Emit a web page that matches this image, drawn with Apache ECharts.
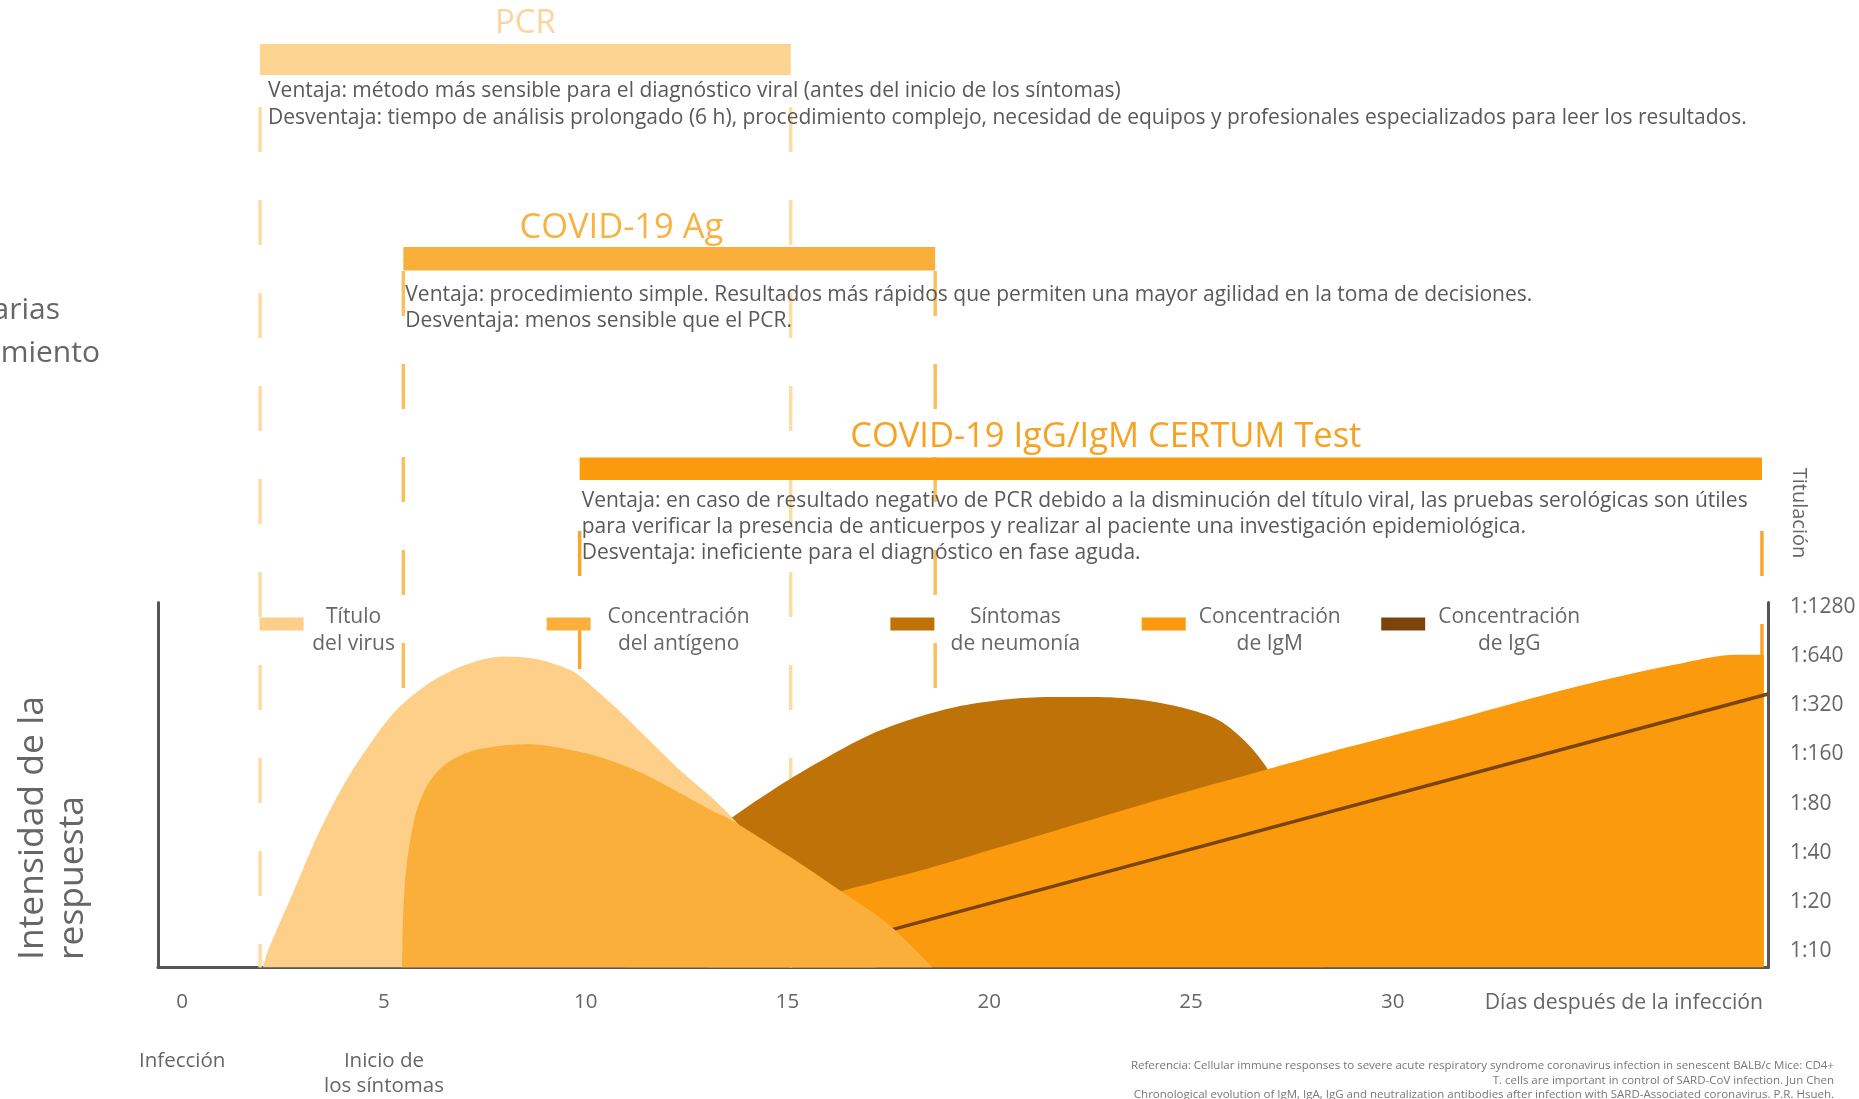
<!DOCTYPE html>
<html>
<head>
<meta charset="utf-8">
<script src="https://cdn.jsdelivr.net/npm/echarts@6/dist/echarts.min.js"></script>
<style>
html,body{margin:0;padding:0;background:#ffffff;}
#chart{width:1859px;height:1099px;}
</style>
</head>
<body>
<div id="chart"></div>
<script>
// ---------- data ----------
const xTickDays = [0, 5, 10, 15, 20, 25, 30];
const xEventDays = [0, 5];
const xEventLabels = ['Infección', 'Inicio de\nlos síntomas'];
const yTickSteps = [0, 1, 2, 3, 4, 5, 6, 7];
const yTickLabels = ['1:10', '1:20', '1:40', '1:80', '1:160', '1:320', '1:640', '1:1280'];

const seriesNames = ['Título del virus', 'Concentración del antígeno', 'Síntomas de neumonía', 'Concentración de IgM', 'Concentración de IgG'];
const legendLines = [['Título', 'del virus'], ['Concentración', 'del antígeno'], ['Síntomas', 'de neumonía'], ['Concentración', 'de IgM'], ['Concentración', 'de IgG']];

// response curves: x = days after infection, y = titre steps (0 = 1:10, 7 = 1:1280)
const virusDays = [2.0, 2.12, 2.75, 3.38, 4.02, 4.65, 5.28, 6.04, 6.79, 7.2, 7.55, 7.95, 8.31, 8.7, 9.07, 9.70, 10.2, 10.84, 11.6, 12.35, 13.1, 13.6, 14.5, 15.5, 16.5, 17.2];
const virusVals = [-0.33, 0.0, 1.2, 2.4, 3.41, 4.21, 4.88, 5.41, 5.75, 5.87, 5.95, 5.99, 5.98, 5.95, 5.88, 5.68, 5.35, 4.88, 4.27, 3.67, 3.14, 2.74, 1.95, 1.1, 0.3, -0.33];

const antigenDays = [5.45, 5.47, 5.52, 5.6, 5.79, 6.1, 6.54, 7.17, 7.8, 8.2, 8.56, 8.95, 9.32, 10.08, 10.84, 11.6, 12.35, 13.1, 13.6, 15.0, 16.33, 17.5, 18.6];
const antigenVals = [-0.33, 0.6, 1.4, 2.0, 2.8, 3.41, 3.81, 4.07, 4.17, 4.2, 4.21, 4.19, 4.14, 4.01, 3.81, 3.54, 3.21, 2.87, 2.67, 1.95, 1.22, 0.55, -0.33];

const pneumoniaDays = [11.0, 12.5, 13.58, 14.9, 16.0, 17.1, 18.2, 19.3, 20.4, 21.5, 22.6, 23.7, 24.8, 25.7, 26.4, 26.9, 27.5, 28.0, 28.3];
const pneumoniaVals = [0.9, 2.0, 2.69, 3.42, 3.95, 4.42, 4.75, 4.99, 5.12, 5.17, 5.17, 5.12, 4.95, 4.69, 4.22, 3.70, 2.7, 1.2, -0.33];

const igmDays = [13.0, 16.33, 18.2, 20.4, 22.6, 24.8, 26.9, 28.9, 31.25, 33.2, 35.1, 37.0, 38.5, 39.2];
const igmVals = [0.45, 1.22, 1.62, 2.15, 2.69, 3.22, 3.70, 4.15, 4.65, 5.09, 5.49, 5.83, 6.03, 6.03];

const iggDays = [17.5, 39.3];
const iggVals = [0.42, 5.23];

// diagnostic test windows (days)
const testNames = ['PCR', 'COVID-19 Ag', 'COVID-19 IgG/IgM CERTUM Test'];
const testStart = [1.93, 5.48, 9.85];
const testEnd = [15.08, 18.66, 39.15];
const testNotes = [
  ['Ventaja: método más sensible para el diagnóstico viral (antes del inicio de los síntomas)',
   'Desventaja: tiempo de análisis prolongado (6 h), procedimiento complejo, necesidad de equipos y profesionales especializados para leer los resultados.'],
  ['Ventaja: procedimiento simple. Resultados más rápidos que permiten una mayor agilidad en la toma de decisiones.',
   'Desventaja: menos sensible que el PCR.'],
  ['Ventaja: en caso de resultado negativo de PCR debido a la disminución del título viral, las pruebas serológicas son útiles',
   'para verificar la presencia de anticuerpos y realizar al paciente una investigación epidemiológica.',
   'Desventaja: ineficiente para el diagnóstico en fase aguda.']
];

// ---------- style / layout ----------
const FONT = '"Open Sans", "Noto Sans", sans-serif';
const X_MIN = -0.6, X_MAX = 39.3;
const Y_MIN = -0.33, Y_MAX = 7.09;
const GRAY = '#666666';
const AXIS = '#555555';
const COLORS = ['#FDCF88', '#F9AF3A', '#BF7207', '#FB9A0D', '#7A440C'];

const TEST_STYLE = [
  {bar: '#FDD390', title: '#FDD49C', dash: '#FDDCA6', barTop: 44, barH: 31, titleY: 24, titleFrac: 0.5, titleSize: 33, textY0: 91, lineH: 27.3, textDx: 8, dashTop: 107},
  {bar: '#F9AF3A', title: '#F8B23F', dash: '#F9BE5E', barTop: 247, barH: 23.5, titleY: 228, titleFrac: 0.41, titleSize: 34.5, textY0: 295, lineH: 26, textDx: 2, dashTop: 271},
  {bar: '#FB9A0D', title: '#F6A222', dash: '#F9A62D', barTop: 457.5, barH: 22.5, titleY: 437.5, titleFrac: 0.445, titleSize: 34.5, textY0: 501, lineH: 26, textDx: 2, dashTop: 531}
];
const LEGEND_POS = [{left: 259.6, w: 90}, {left: 546.6, w: 166}, {left: 890.4, w: 152}, {left: 1141.7, w: 158}, {left: 1381.2, w: 158}];

function pairs(xs, ys) { return xs.map((x, i) => [x, ys[i]]); }

function areaSeries(idx, xs, ys, z) {
  return {
    type: 'line', name: seriesNames[idx], data: pairs(xs, ys),
    smooth: 0.3, symbol: 'none', silent: true, z: z,
    itemStyle: {color: COLORS[idx]},
    lineStyle: {width: 0, color: COLORS[idx]},
    areaStyle: {color: COLORS[idx], opacity: 1, origin: 'start'}
  };
}

function renderTest(params, api) {
  const i = params.dataIndex;
  const L = TEST_STYLE[i];
  const x0 = api.coord([api.value(0), Y_MIN])[0];
  const x1 = api.coord([api.value(1), Y_MIN])[0];
  const yb = api.coord([api.value(0), Y_MIN])[1];
  const children = [];
  [x0, x1].forEach(x => children.push({
    type: 'line', shape: {x1: x, y1: L.dashTop, x2: x, y2: yb},
    style: {stroke: L.dash, lineWidth: 3.5, lineDash: [45, 48]}
  }));
  children.push({type: 'rect', shape: {x: x0, y: L.barTop, width: x1 - x0, height: L.barH}, style: {fill: L.bar}});
  children.push({type: 'text', x: x0 + (x1 - x0) * L.titleFrac, y: L.titleY,
    style: {text: testNames[i], fill: L.title, fontSize: L.titleSize, fontFamily: FONT, align: 'center', verticalAlign: 'middle'}});
  testNotes[i].forEach((t, k) => children.push({type: 'text', x: x0 + L.textDx, y: L.textY0 + k * L.lineH,
    style: {text: t, fill: '#595959', fontSize: 21, fontFamily: FONT, align: 'left', verticalAlign: 'middle'}}));
  return {type: 'group', children: children};
}

const legends = seriesNames.map((n, i) => ({
  data: [n], left: LEGEND_POS[i].left, top: 606.5, padding: 0,
  icon: 'rect', itemWidth: 44, itemHeight: 13, selectedMode: false,
  formatter: () => legendLines[i].map(l => '{c|' + l + '}').join('\n'),
  textStyle: {
    padding: [13, 0, 0, 0],
    rich: {c: {width: LEGEND_POS[i].w, align: 'center', fontSize: 21, lineHeight: 27, color: GRAY, fontFamily: FONT}}
  }
}));

const option = {
  animation: false,
  backgroundColor: '#ffffff',
  textStyle: {fontFamily: FONT},
  grid: {left: 158, right: 91, top: 602.5, bottom: 124.5, containLabel: false},
  legend: legends,
  xAxis: [
    {type: 'value', min: X_MIN, max: X_MAX, position: 'bottom',
     axisLine: {show: true, onZero: false, lineStyle: {color: AXIS, width: 3}},
     axisTick: {show: false}, splitLine: {show: false},
     axisLabel: {customValues: xTickDays, color: GRAY, fontSize: 20.5, margin: 24, fontFamily: FONT}},
    {type: 'value', min: X_MIN, max: X_MAX, position: 'bottom', offset: 0,
     axisLine: {show: false, onZero: false}, axisTick: {show: false}, splitLine: {show: false},
     axisLabel: {customValues: xEventDays, formatter: v => xEventLabels[xEventDays.indexOf(v)] || '',
       color: GRAY, fontSize: 20.5, lineHeight: 25, margin: 81.5, fontFamily: FONT}}
  ],
  yAxis: [
    {type: 'value', min: Y_MIN, max: Y_MAX, position: 'left',
     axisLine: {show: true, onZero: false, lineStyle: {color: AXIS, width: 3}},
     axisTick: {show: false}, splitLine: {show: false}, axisLabel: {show: false}},
    {type: 'value', min: Y_MIN, max: Y_MAX, position: 'right',
     axisLine: {show: true, onZero: false, lineStyle: {color: AXIS, width: 3}},
     axisTick: {show: false}, splitLine: {show: false},
     axisLabel: {customValues: yTickSteps, formatter: v => yTickLabels[yTickSteps.indexOf(v)] || '',
       color: GRAY, fontSize: 21, margin: 22, fontFamily: FONT}}
  ],
  series: [
    {type: 'custom', name: 'tests', renderItem: renderTest, data: testStart.map((s, i) => [s, testEnd[i]]),
     encode: {x: [0, 1]}, z: 1, silent: true, clip: false},
    areaSeries(2, pneumoniaDays, pneumoniaVals, 3),
    areaSeries(3, igmDays, igmVals, 4),
    {type: 'line', name: seriesNames[4], data: pairs(iggDays, iggVals), symbol: 'none', silent: true, z: 5,
     itemStyle: {color: COLORS[4]}, lineStyle: {color: COLORS[4], width: 3.5}},
    areaSeries(0, virusDays, virusVals, 6),
    areaSeries(1, antigenDays, antigenVals, 7)
  ],
  graphic: [
    {type: 'text', x: 13, y: 960, rotation: Math.PI / 2,
     style: {text: 'Intensidad de la\nrespuesta', fill: GRAY, fontSize: 35.5, lineHeight: 40, fontFamily: FONT, align: 'left', verticalAlign: 'top'}},
    {type: 'text', x: 1799, y: 513, rotation: -Math.PI / 2,
     style: {text: 'Titulación', fill: GRAY, fontSize: 20, fontFamily: FONT, align: 'center', verticalAlign: 'middle'}},
    {type: 'text', x: 1763, y: 1003,
     style: {text: 'Días después de la infección', fill: GRAY, fontSize: 21.2, fontFamily: FONT, align: 'right', verticalAlign: 'middle'}},
    {type: 'text', x: 60, y: 310,
     style: {text: 'arias', fill: GRAY, fontSize: 30, fontFamily: FONT, align: 'right', verticalAlign: 'middle'}},
    {type: 'text', x: 100, y: 353,
     style: {text: 'miento', fill: GRAY, fontSize: 30, fontFamily: FONT, align: 'right', verticalAlign: 'middle'}},
    {type: 'text', x: 1834, y: 1059,
     style: {text: 'Referencia: Cellular immune responses to severe acute respiratory syndrome coronavirus infection in senescent BALB/c Mice: CD4+\nT. cells are important in control of SARD-CoV infection. Jun Chen\nChronological evolution of IgM, IgA, IgG and neutralization antibodies after infection with SARD-Associated coronavirus. P.R. Hsueh.',
       fill: '#777777', fontSize: 11.5, lineHeight: 14.2, fontFamily: FONT, align: 'right', verticalAlign: 'top'}}
  ]
};

const chart = echarts.init(document.getElementById('chart'), null, {renderer: 'canvas'});
chart.setOption(option);
</script>
</body>
</html>
